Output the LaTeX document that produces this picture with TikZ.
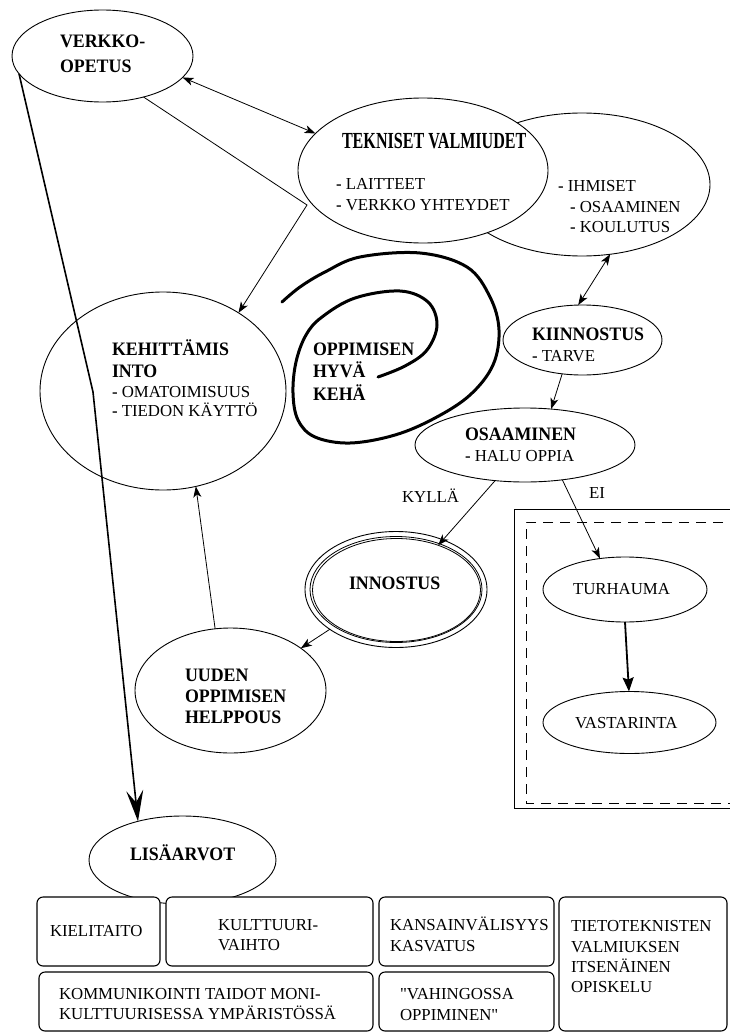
\documentclass[tikz,border=0pt]{standalone}
\usepackage{fontspec}
\setmainfont{Liberation Serif}[Ligatures=TeXOff]
\usetikzlibrary{shapes.geometric,arrows.meta}

% bold, slightly condensed heading text
\newcommand\hd[1]{\scalebox{0.94}[1]{\fontsize{19}{19}\selectfont\bfseries #1}}
% bold bullet dash
\newcommand\bdash{\textbf{-}}

\begin{document}
\begin{tikzpicture}[x=1pt,y=-1pt,
  oval/.style={ellipse,draw,line width=0.9pt,inner sep=0pt,outer sep=0pt},
  txt/.style={anchor=base west,inner sep=0pt,outer sep=0pt,font=\fontsize{16.8}{20}\selectfont},
  con/.style={line width=0.8pt,-{Stealth[length=11pt,width=8pt,inset=3pt]}},
  con2/.style={line width=0.8pt,{Stealth[length=11pt,width=8pt,inset=3pt]}-{Stealth[length=11pt,width=8pt,inset=3pt]}},
  valuebox/.style={draw,line width=1.1pt,rounded corners=6pt,fill=white}]
\useasboundingbox (0,0) rectangle (729,1033);

% ---------- ellipses ----------
\node[oval,minimum width=181pt,minimum height=92pt] (verkko) at (102.5,56) {};
\node[oval,minimum width=256pt,minimum height=143pt] (ihm) at (582,184.5) {};
\node[oval,fill=white,minimum width=250pt,minimum height=145pt] (tek) at (423,170.5) {};
\node[oval,minimum width=246pt,minimum height=198pt] (keh) at (163,391) {};
\node[oval,minimum width=159pt,minimum height=70pt] (kiin) at (582.5,340) {};
\node[oval,minimum width=220pt,minimum height=74pt] (osa) at (525,445) {};
\node[oval,minimum width=182pt,minimum height=116pt] (inn) at (396,589.5) {};
\node[oval,line width=0.8pt,minimum width=172pt,minimum height=106pt] (innb) at (396,589.5) {};
\node[oval,line width=0.8pt,minimum width=168pt,minimum height=103pt] (innc) at (396.5,590) {};
\node[oval,minimum width=191pt,minimum height=125pt] (uud) at (230.5,690.5) {};
\node[oval,minimum width=164pt,minimum height=65pt] (tur) at (625,589.5) {};
\node[oval,minimum width=173pt,minimum height=62pt] (vas) at (629.5,722.5) {};
\node[oval,minimum width=187pt,minimum height=88pt] (lis) at (182.5,860) {};

% ---------- frame around the negative branch ----------
\draw[line width=0.9pt] (740,509) -- (514,509) -- (514,808) -- (740,808);
\draw[line width=0.9pt,dash pattern=on 10pt off 7pt] (740,522) -- (526,522) -- (526,803) -- (740,803);

% ---------- spiral ----------
\draw[line width=3pt,line cap=round,line join=round] plot[smooth,tension=0.6] coordinates {
  (282,302) (300,287) (325,272) (360,257) (420,253) (467,267) (490,297) (499,330)
  (493,365) (470,395) (435,418) (395,435) (350,443) (315,437) (298,420) (293,393)
  (296,362) (306,335) (322,317) (355,298) (400,291) (428,302) (437,325) (427,350)
  (405,366) (378,377)};

% ---------- connectors ----------
\draw[con2] (verkko.-15.5) -- (tek.161.6);
\coordinate (bend) at (307,205);
\draw[con] (verkko.-45.4) -- (bend) -- (keh.46.6);
\coordinate (kink) at (93,392);
\draw[line width=1.6pt,-{Stealth[length=31pt,width=17pt,inset=12pt]}] (verkko.192.5) -- (kink) -- (lis.139.8);
\draw[con2] (ihm.-68.1) -- (kiin.97);
\draw[con] (kiin.-121.2) -- (osa.54.2);
\draw[con] (osa.-130.1) -- (innc.47.7);
\draw[con] (osa.-43.2) -- (tur.129);
\draw[con] (inn.-149) -- (uud.31.7);
\draw[con] (uud.104.1) -- (keh.-71.5);
\draw[line width=1.8pt,-{Stealth[length=14pt,width=11pt,inset=2pt]}] (tur.-90) -- (vas.91);

% ---------- texts in the ellipses ----------
\node[txt] (tv1) at (60,48) {\hd{VERKKO-}};
\node[txt] (tv2) at (60,73) {\hd{OPETUS}};

\node[txt] (tt1) at (342,148) {\scalebox{0.70}[1]{\fontsize{23}{23}\selectfont\bfseries TEKNISET VALMIUDET}};
\node[txt] (tt2) at (336,189) {\bdash{} LAITTEET};
\node[txt] (tt3) at (336,210) {\bdash{} VERKKO YHTEYDET};

\node[txt] (ti1) at (558,191.5) {\bdash{} IHMISET};
\node[txt] (ti2) at (570,212) {\bdash{} OSAAMINEN};
\node[txt] (ti3) at (570,232) {\bdash{} KOULUTUS};

\node[txt] (tk1) at (112,355.5) {\hd{KEHITTÄMIS}};
\node[txt] (tk2) at (112,377) {\hd{INTO}};
\node[txt] (tk3) at (112,397) {\bdash{} OMATOIMISUUS};
\node[txt] (tk4) at (112,416) {\bdash{} TIEDON KÄYTTÖ};

\node[txt] (ts1) at (313,355.5) {\hd{OPPIMISEN}};
\node[txt] (ts2) at (313,377) {\hd{HYVÄ}};
\node[txt] (ts3) at (313,400) {\hd{KEHÄ}};

\node[txt] (tn1) at (532,340.5) {\hd{KIINNOSTUS}};
\node[txt] (tn2) at (532,361) {\bdash{} TARVE};

\node[txt] (to1) at (465,440.5) {\hd{OSAAMINEN}};
\node[txt] (to2) at (465,461) {\bdash{} HALU OPPIA};

\node[txt] (tyes) at (402,502.5) {KYLLÄ};
\node[txt] (tno) at (589,498) {EI};

\node[txt] (tin) at (349,589) {\hd{INNOSTUS}};
\node[txt] (ttu) at (573,594) {TURHAUMA};
\node[txt] (tva) at (575,728) {VASTARINTA};

\node[txt] (tu1) at (185,681.5) {\hd{UUDEN}};
\node[txt] (tu2) at (185,702.5) {\hd{OPPIMISEN}};
\node[txt] (tu3) at (185,723.5) {\hd{HELPPOUS}};

\node[txt] (tl1) at (130,860) {\hd{LISÄARVOT}};

% ---------- value boxes ----------
\draw[valuebox] (37,897) rectangle (160,966);
\draw[valuebox] (166,897) rectangle (373,966);
\draw[valuebox] (379,897) rectangle (554,966);
\draw[valuebox] (559,897) rectangle (727,1031);
\draw[valuebox] (39,972) rectangle (373,1031);
\draw[valuebox] (379,972) rectangle (554,1031);

\node[txt] (b1) at (50,936) {KIELITAITO};
\node[txt] (b2a) at (218,930) {KULTTUURI-};
\node[txt] (b2b) at (218,950.5) {VAIHTO};
\node[txt] (b3a) at (390,930.5) {KANSAINVÄLISYYS};
\node[txt] (b3b) at (390,951) {KASVATUS};
\node[txt] (b4a) at (571,931.5) {TIETOTEKNISTEN};
\node[txt] (b4b) at (571,952) {VALMIUKSEN};
\node[txt] (b4c) at (571,972.5) {ITSENÄINEN};
\node[txt] (b4d) at (571,992.5) {OPISKELU};
\node[txt] (b5a) at (59,999) {KOMMUNIKOINTI TAIDOT MONI-};
\node[txt] (b5b) at (59,1019.5) {KULTTUURISESSA YMPÄRISTÖSSÄ};
\node[txt] (b6a) at (400,999.5) {"VAHINGOSSA};
\node[txt] (b6b) at (400,1020) {OPPIMINEN"};
\end{tikzpicture}
\end{document}
